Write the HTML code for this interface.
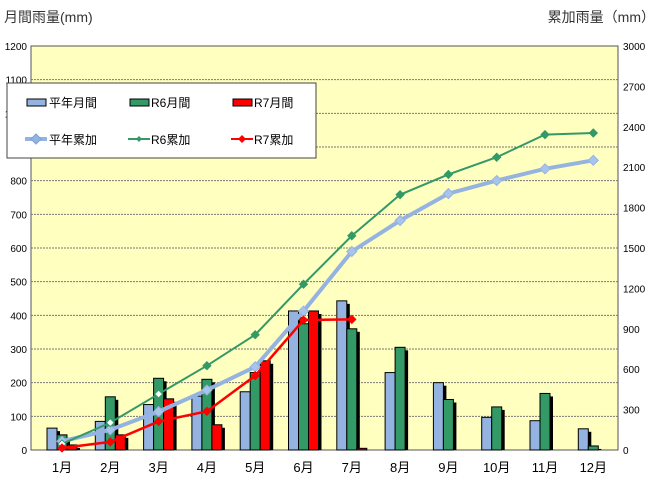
<!DOCTYPE html>
<html><head><meta charset="utf-8"><style>
body{margin:0;background:#fff;}
svg text{font-family:"Liberation Sans","Noto Sans CJK JP",sans-serif;}
</style></head><body>
<svg id="chart" width="662" height="487" xmlns="http://www.w3.org/2000/svg">
<rect x="0" y="0" width="662" height="487" fill="#fff"/>
<text x="4" y="22" font-size="14" fill="#333">月間雨量(mm)</text>
<text x="655" y="22" font-size="14" fill="#333" text-anchor="end">累加雨量（mm）</text>
<rect x="31" y="46" width="587" height="404" fill="#ffffc0" stroke="#555" stroke-width="1"/>
<g id="grid"></g><g id="bars"></g><g id="lines"></g><g id="axes"></g>
<g>
<rect x="7" y="83" width="309" height="75" fill="#fff" stroke="#444"/>
<g><rect x="27" y="99" width="19" height="7" fill="#95b3e0" stroke="#000"/><text x="49" y="107" font-size="12">平年月間</text></g>
<g><rect x="130" y="99" width="19" height="7" fill="#339966" stroke="#000"/><text x="151" y="107" font-size="12">R6月間</text></g>
<g><rect x="233" y="99" width="19" height="7" fill="#ff0000" stroke="#000"/><text x="254" y="107" font-size="12">R7月間</text></g>
<g><line x1="25" y1="139" x2="47" y2="139" stroke="#95b3e0" stroke-width="4"/><path d="M36,134 L41,139 L36,144 L31,139Z" fill="#95b3e0" stroke="#7aa0d8"/><text x="49" y="144" font-size="12">平年累加</text></g>
<g><line x1="128" y1="139" x2="150" y2="139" stroke="#339966" stroke-width="2"/><path d="M139,136 L142,139 L139,142 L136,139Z" fill="#339966"/><text x="151" y="144" font-size="12">R6累加</text></g>
<g><line x1="231" y1="139" x2="253" y2="139" stroke="#ff0000" stroke-width="2"/><path d="M242,135 L246,139 L242,143 L238,139Z" fill="#ff0000"/><text x="254" y="144" font-size="12">R7累加</text></g>
</g>
</svg>
<script>
const months=["1月","2月","3月","4月","5月","6月","7月","8月","9月","10月","11月","12月"];
const avgMonthly=[65,85,135,160,173,413,443,230,200,97,87,63];
const r6Monthly=[45,158,213,210,230,375,360,305,150,128,168,12];
const r7Monthly=[15,45,152,75,265,413,5];
const avgCum=[65,150,285,445,618,1031,1474,1704,1904,2001,2088,2151];
const r6Cum=[45,203,416,626,856,1231,1591,1896,2046,2174,2342,2354];
const r7Cum=[15,60,212,287,552,965,970];
const leftTicks=[0,100,200,300,400,500,600,700,800,900,1000,1100,1200];
const rightTicks=[0,300,600,900,1200,1500,1800,2100,2400,2700,3000];
const NS="http://www.w3.org/2000/svg";
const top_=46,bot=450,left=31,right=618;
const yL=v=>bot-(bot-top_)*v/1200;
const yR=v=>bot-(bot-top_)*v/3000;
const xC=i=>62+48.3*i;
function mk(tag,attrs,parent){const e=document.createElementNS(NS,tag);for(const k in attrs)e.setAttribute(k,attrs[k]);document.getElementById(parent).appendChild(e);return e;}
leftTicks.forEach(t=>{
  if(t>0&&t<1200){const g=mk('line',{x1:left,x2:right,y1:yL(t),y2:yL(t),stroke:'#777','stroke-dasharray':'2,1','stroke-width':1},'grid');
  
  }
  const tx=mk('text',{x:27,y:yL(t)+4,'font-size':10,'text-anchor':'end'},'axes');tx.textContent=t;
  
  
});
rightTicks.forEach(t=>{
  const tx=mk('text',{x:623,y:yR(t)+4,'font-size':10},'axes');tx.textContent=t;
  
  
});
months.forEach((m,i)=>{
  const tx=mk('text',{x:xC(i),y:472,'font-size':13,'text-anchor':'middle'},'axes');tx.textContent=m;
  
  
});
function bars(arr,off,color,name){
  arr.forEach((v,i)=>{
    const x=xC(i)+off,y=yL(v),h=bot-y;
    const s=mk('rect',{x:x+3,y:y+3,width:10,height:Math.max(h-3,0),fill:'#000'},'bars');
    
    
    const r=mk('rect',{x:x,y:y,width:10,height:h,fill:color,stroke:'#000','stroke-width':1},'bars');
    
    
  });
}
bars(avgMonthly,-15,'#95b3e0','bar-avg-monthly');
bars(r6Monthly,-5,'#339966','bar-r6-monthly');
bars(r7Monthly,5,'#ff0000','bar-r7-monthly');
function line(arr,color,w,ms,name,fill){
  const pts=arr.map((v,i)=>xC(i)+','+yR(v)).join(' ');
  const p=mk('polyline',{points:pts,fill:'none',stroke:color,'stroke-width':w},'lines');
  
  
  arr.forEach((v,i)=>{
    const x=xC(i),y=yR(v);
    const d=mk('path',{d:`M${x},${y-ms} L${x+ms},${y} L${x},${y+ms} L${x-ms},${y}Z`,fill:fill?fill(i):color,stroke:color,'stroke-width':1},'lines');
    
    
  });
}
line(avgCum,'#95b3e0',4,5,'avg-cumulative',()=>'#a9c4ea');
line(r6Cum,'#339966',2,4,'r6-cumulative',i=>i<3?'#fff':'#339966');
line(r7Cum,'#ff0000',2.5,4,'r7-cumulative');
</script>
</body></html>
